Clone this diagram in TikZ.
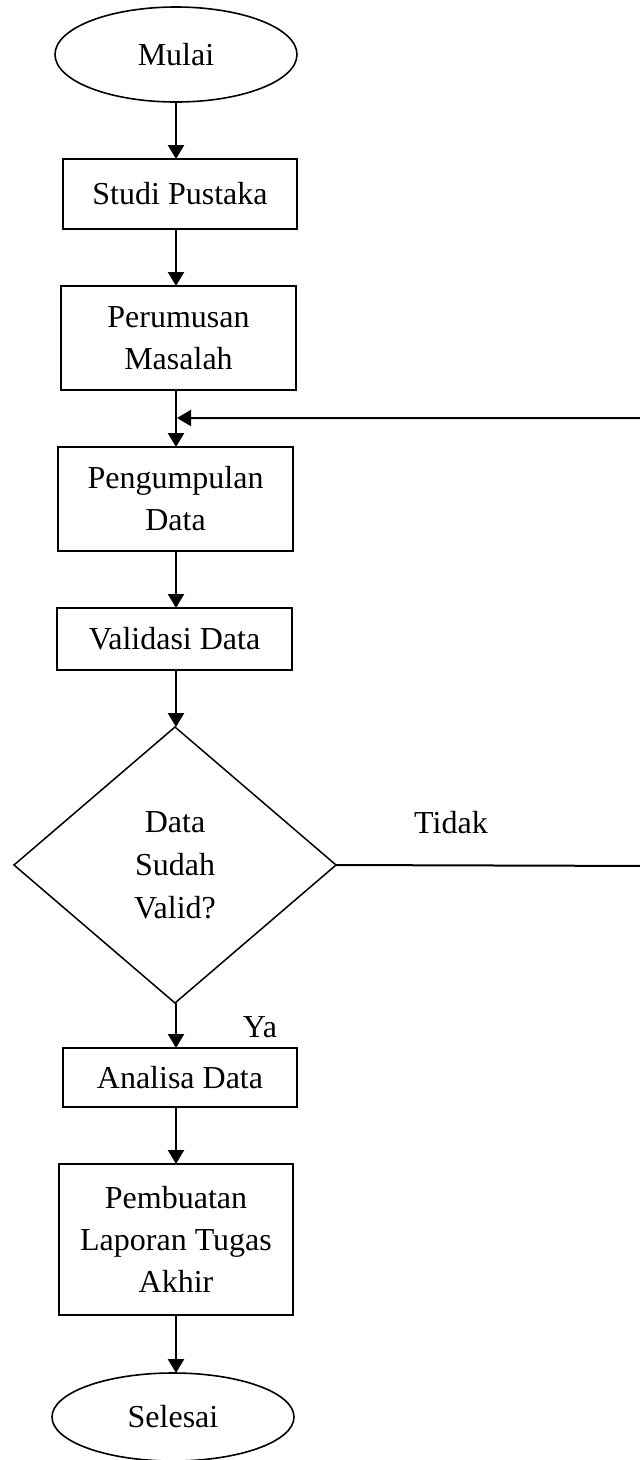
\documentclass[tikz,border=0pt]{standalone}
\usepackage{fontspec}
\setmainfont{Liberation Serif}
\usetikzlibrary{shapes.geometric,arrows.meta}
\begin{document}
\begin{tikzpicture}[x=1pt,y=-1pt,
  every node/.style={font=\fontsize{32}{42}\selectfont, inner sep=0pt, outer sep=0pt},
  procbox/.style={draw, line width=1.8pt, align=center},
  terminal/.style={draw, ellipse, line width=1.6pt, minimum width=242pt},
  decision/.style={draw, diamond, line width=1.5pt, align=center,
    font=\fontsize{32}{43}\selectfont},
  arr/.style={-{Triangle[width=16pt,length=14pt]}, line width=2.2pt},
  lbl/.style={}]
\useasboundingbox (0,0) rectangle (640,1460);
\clip (0,0) rectangle (640,1460);
\coordinate (ax) at (176,0);

\node[terminal, minimum height=95pt] (mulai) at (176,54.5) {Mulai};
\node[procbox, minimum width=234pt, minimum height=70pt] (studi) at (180,194) {Studi Pustaka};
\node[procbox, minimum width=235pt, minimum height=104pt] (rumus) at (178.5,338) {Perumusan\\Masalah};
\node[procbox, minimum width=235pt, minimum height=104pt] (kumpul) at (175.5,499) {Pengumpulan\\Data};
\node[procbox, minimum width=235pt, minimum height=62pt] (valid) at (174.5,639) {Validasi Data};
\node[decision, minimum width=322pt, minimum height=276pt] (dec) at (175,865) {Data\\Sudah\\Valid?};
\node[procbox, minimum width=234pt, minimum height=59pt] (analisa) at (180,1077.5) {Analisa Data};
\node[procbox, minimum width=234pt, minimum height=151pt] (laporan) at (176,1239.5) {Pembuatan\\Laporan Tugas\\Akhir};
\node[terminal, minimum height=88pt] (selesai) at (173,1417) {Selesai};

\node[lbl] (tidak) at (451,823) {Tidak};
\node[lbl] (ya) at (260,1027) {Ya};

\coordinate (rt) at (660,866);
\coordinate (rtop) at (660,418);
\coordinate (merge) at (177,418);

\draw[arr] (mulai.south -| ax) -- (studi.north -| ax);
\draw[arr] (studi.south -| ax) -- (rumus.north -| ax);
\draw[arr] (rumus.south -| ax) -- (kumpul.north -| ax);
\draw[arr] (kumpul.south -| ax) -- (valid.north -| ax);
\draw[arr] (valid.south -| ax) -- (dec.north -| ax);
\draw[arr] (dec.south -| ax) -- (analisa.north -| ax);
\draw[arr] (analisa.south -| ax) -- (laporan.north -| ax);
\draw[arr] (laporan.south -| ax) -- (selesai.north -| ax);
\draw[arr, line width=2pt] (dec.east) -- (rt) -- (rtop) -- (merge);
\end{tikzpicture}
\end{document}
